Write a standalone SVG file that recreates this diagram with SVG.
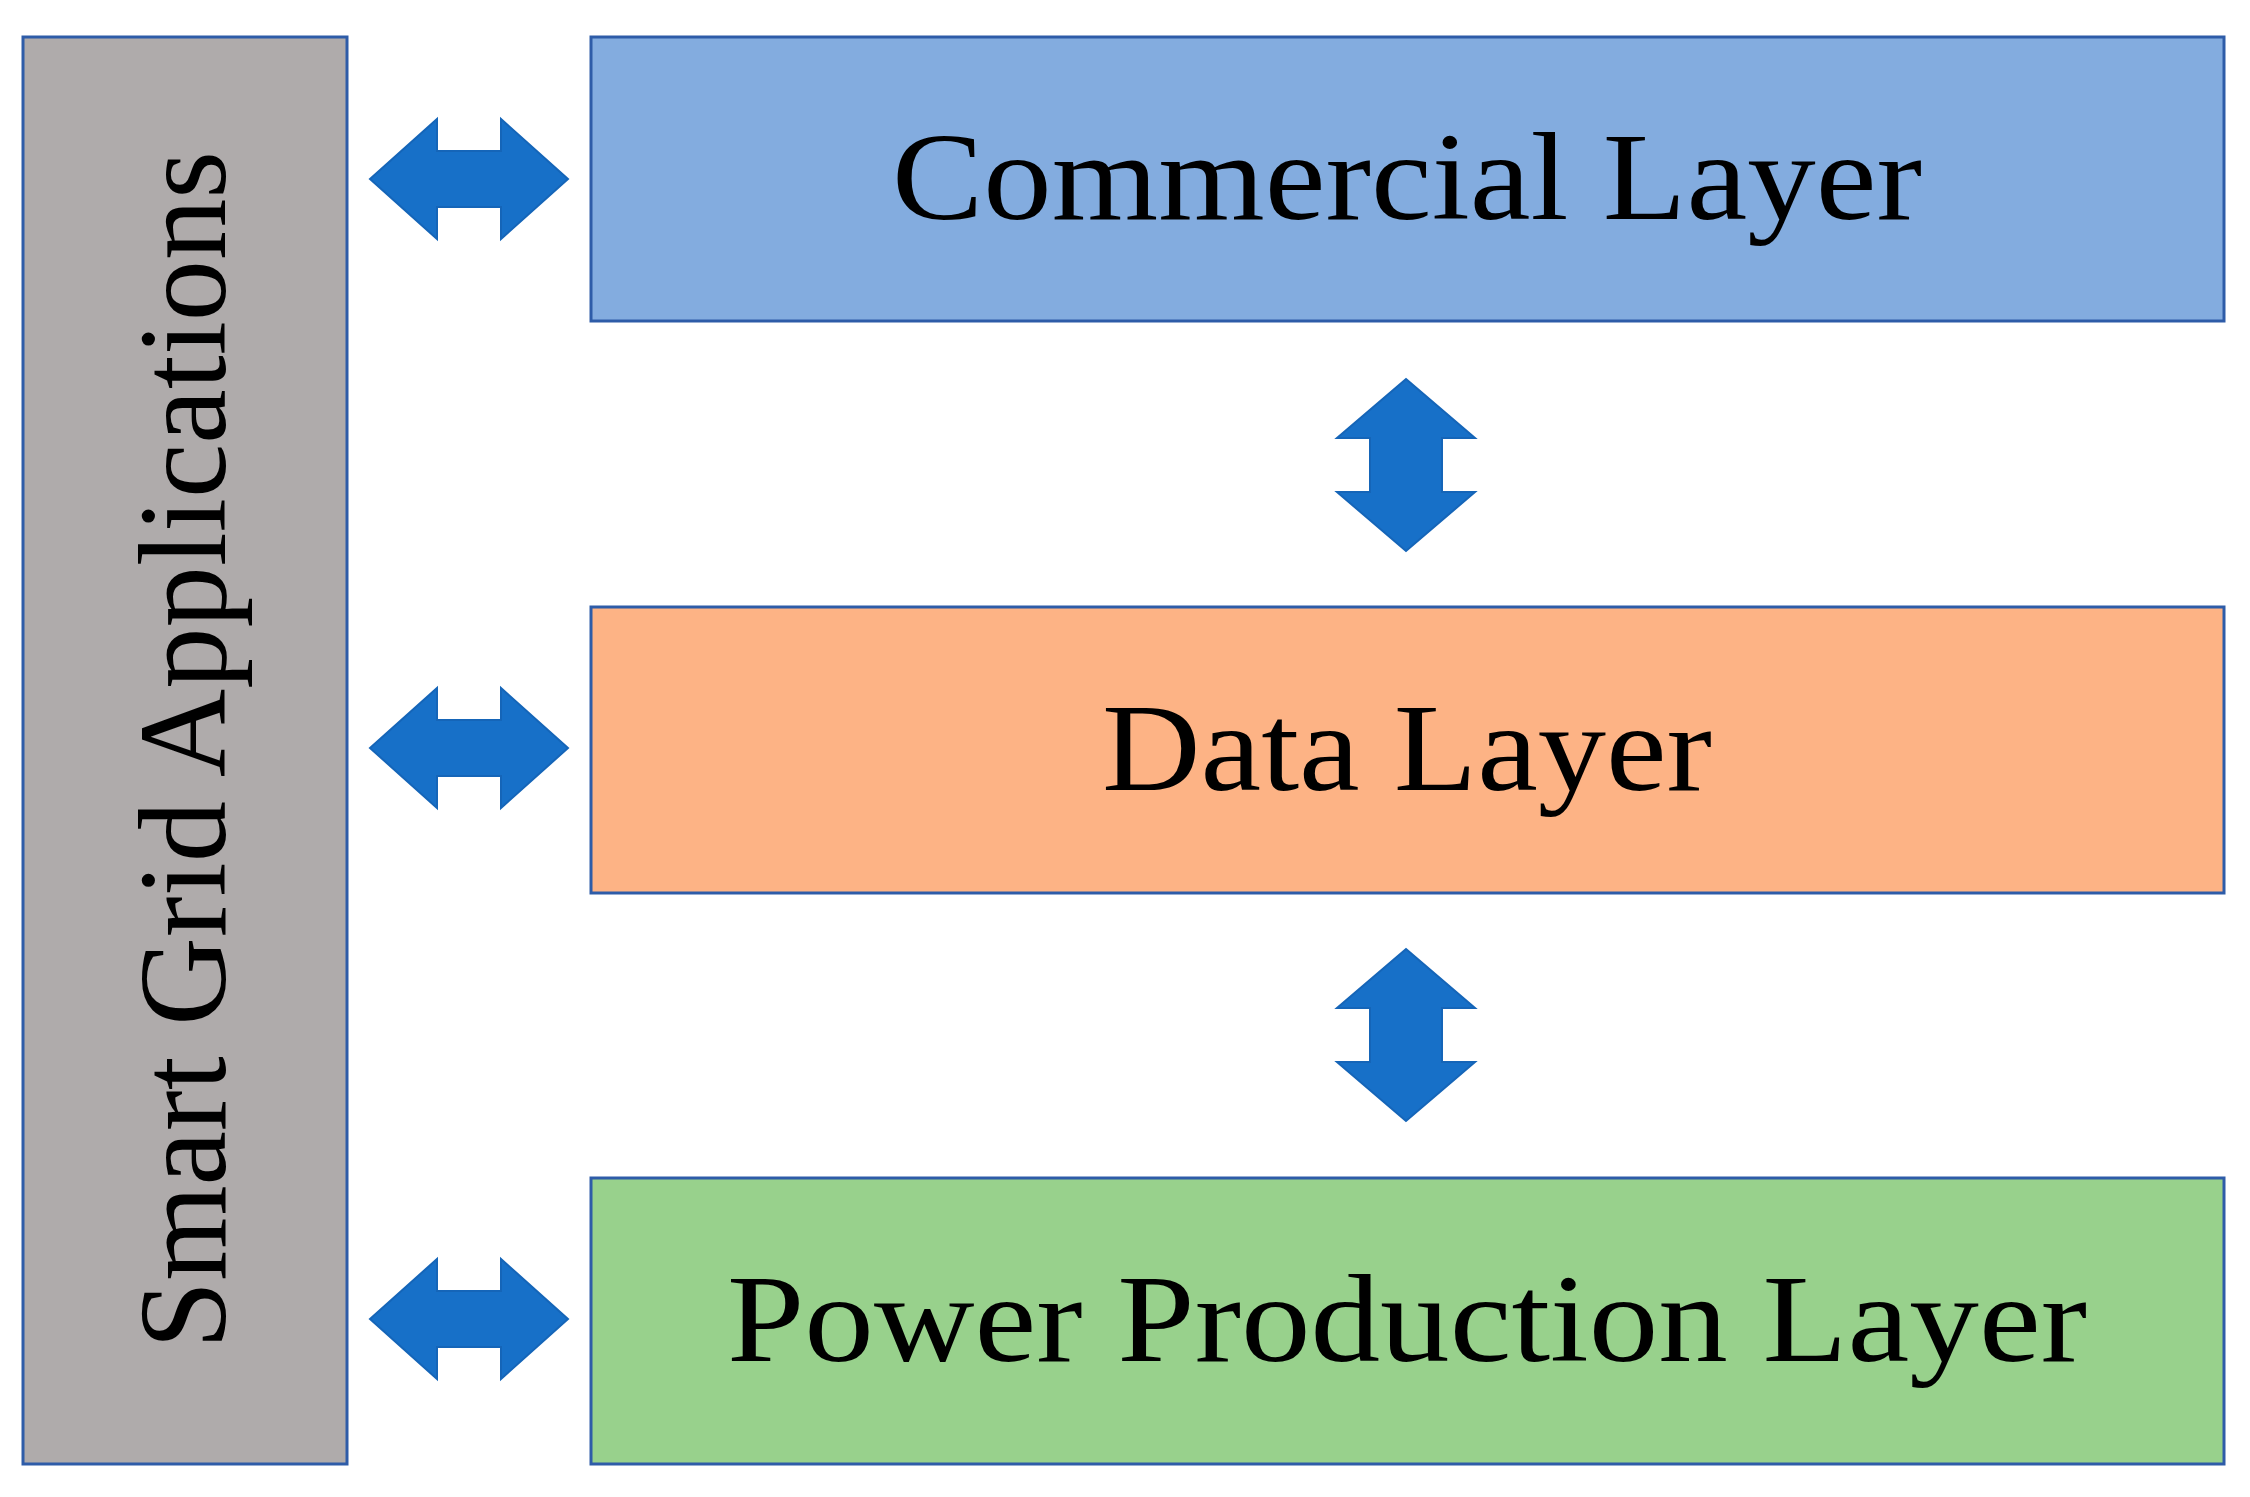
<svg xmlns="http://www.w3.org/2000/svg" width="2250" height="1497" viewBox="0 0 2250 1497">
<defs><style>
.box{stroke:#2E5CA8;stroke-width:3}
.t{font-family:"Liberation Serif",serif;font-size:124px;fill:#000;text-anchor:middle}
.a{fill:#1770C8;stroke:#1565B8;stroke-width:2}
</style>
<path id="h" d="M-99,0 L-32,-60 L-32,-28 L32,-28 L32,-60 L99,0 L32,60 L32,28 L-32,28 L-32,60 Z"/>
<path id="v" d="M0,-86 L69,-27 L36,-27 L36,27 L69,27 L0,86 L-69,27 L-36,27 L-36,-27 L-69,-27 Z"/>
</defs>
<rect width="2250" height="1497" fill="#fff"/>
<g id="smart-grid"><rect class="box" x="23" y="37" width="324" height="1427" fill="#AFABAB"/>
<text class="t" transform="translate(225,750) rotate(-90)" textLength="1198" lengthAdjust="spacingAndGlyphs">Smart Grid Applications</text></g>
<g id="commercial"><rect class="box" x="591" y="37" width="1633" height="284" fill="#83ACDF"/>
<text class="t" x="1407" y="219" textLength="1030" lengthAdjust="spacingAndGlyphs">Commercial Layer</text></g>
<g id="data"><rect class="box" x="591" y="607" width="1633" height="286" fill="#FDB385"/>
<text class="t" x="1407" y="790" textLength="610" lengthAdjust="spacingAndGlyphs">Data Layer</text></g>
<g id="power"><rect class="box" x="591" y="1178" width="1633" height="286" fill="#98D18C"/>
<text class="t" x="1407" y="1361" textLength="1360" lengthAdjust="spacingAndGlyphs">Power Production Layer</text></g>
<g id="connectors">
<use href="#h" class="a" x="469" y="179"/>
<use href="#h" class="a" x="469" y="748"/>
<use href="#h" class="a" x="469" y="1319"/>
<use href="#v" class="a" x="1406" y="465"/>
<use href="#v" class="a" x="1406" y="1035"/>
</g>
</svg>
